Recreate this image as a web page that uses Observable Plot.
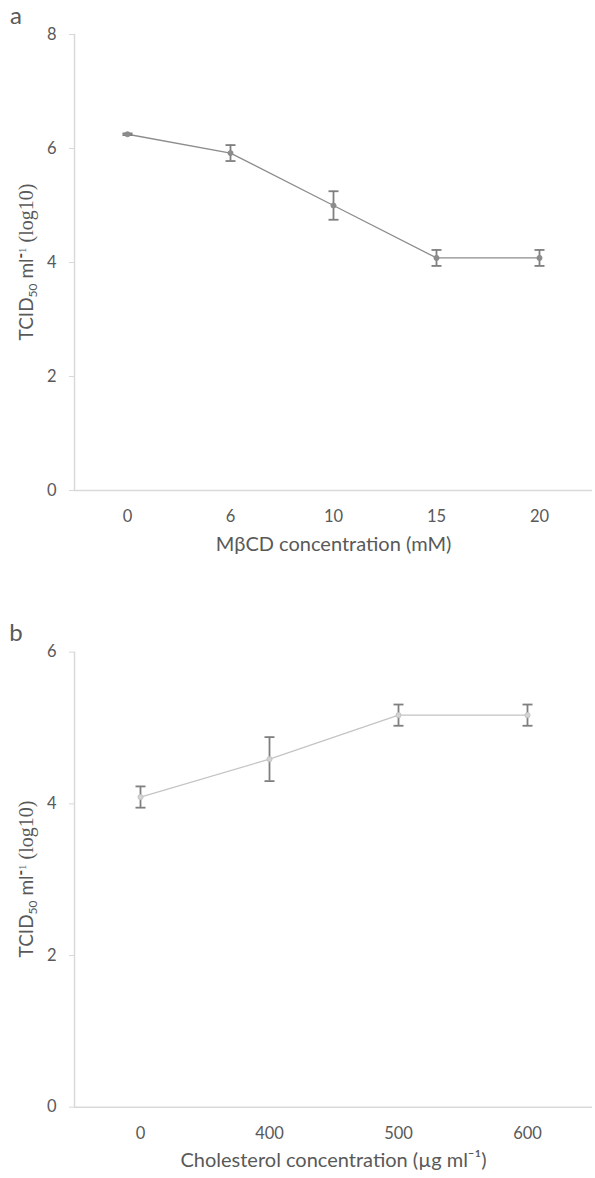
<!DOCTYPE html>
<html>
<head>
<meta charset="utf-8">
<script src="https://cdn.jsdelivr.net/npm/d3@7"></script>
<script src="https://cdn.jsdelivr.net/npm/@observablehq/plot@0.6"></script>
<style>
  body { margin: 0; background: #fff; }
  #wrap { position: relative; width: 595px; height: 1178px; background: #fff; font-family: Lato, "Open Sans", sans-serif; }
  .panel { position: absolute; left: 0; }
</style>
</head>
<body>
<div id="wrap">
  <div class="panel" id="pa" style="top:0px"></div>
  <div class="panel" id="pb" style="top:600px"></div>
</div>
<script>
// ---- data ----
const catsA = ["0", "6", "10", "15", "20"];
const meanA = [6.25, 5.92, 5.0, 4.08, 4.08];
const errA = [0.015, 0.14, 0.25, 0.14, 0.14];
const ticksA = [0, 2, 4, 6, 8];
const xTitleA = "MβCD concentration (mM)";

const catsB = ["0", "400", "500", "600"];
const meanB = [4.09, 4.59, 5.17, 5.17];
const errB = [0.14, 0.29, 0.14, 0.14];
const ticksB = [0, 2, 4, 6];
const xTitleB = "Cholesterol concentration (µg ml⁻¹)";

const TEXT = "#595959";
const AXIS = "#d9d9d9";
const ERR = "#7f7f7f";

const capSymbol = {
  draw(ctx) { ctx.moveTo(-5, 0); ctx.lineTo(5, 0); }
};

function makePanel({cats, means, errs, ticks, yMax, height, mt, mb, xTitle, lineColor, dotFill, dotStroke}) {
  const data = cats.map((c, i) => ({cat: c, mean: means[i], lo: means[i] - errs[i], hi: means[i] + errs[i]}));
  const marks = [
    Plot.ruleY([0], {stroke: AXIS, strokeWidth: 1.5}),
    Plot.frame({anchor: "left", stroke: AXIS, strokeWidth: 1.5}),
    Plot.axisY({ticks, tickFormat: d3.format("d"), tickSize: 5, tickPadding: 13, stroke: AXIS, fill: TEXT, fontSize: 16.5, label: null}),
    Plot.axisX({tickSize: 0, tickPadding: 20, fill: TEXT, fontSize: 16.5, label: null}),
    Plot.line(data, {x: "cat", y: "mean", stroke: lineColor, strokeWidth: 1.3}),
    Plot.ruleX(data, {x: "cat", y1: "lo", y2: "hi", stroke: ERR, strokeWidth: 1.8}),
    Plot.dot(data, {x: "cat", y: "lo", symbol: capSymbol, stroke: ERR, strokeWidth: 1.8, r: 3}),
    Plot.dot(data, {x: "cat", y: "hi", symbol: capSymbol, stroke: ERR, strokeWidth: 1.8, r: 3}),
    Plot.dot(data, {x: "cat", y: "mean", r: 2.6, fill: dotFill, stroke: dotStroke, strokeWidth: 0.8}),
    Plot.text([xTitle], {frameAnchor: "bottom", dy: 60, fill: TEXT, fontSize: 20, text: d => d})
  ];
  return Plot.plot({
    width: 595,
    height,
    marginLeft: 74,
    marginRight: 3,
    marginTop: mt,
    marginBottom: mb,
    style: {fontFamily: "Lato, 'Open Sans', sans-serif", background: "white", color: TEXT},
    x: {type: "point", domain: cats, padding: 0.5, axis: null},
    y: {domain: [0, yMax], axis: null},
    marks
  });
}

function addDecor(svg, letter, letterY, titleCx, titleCy) {
  const s = d3.select(svg);
  s.append("text")
    .attr("x", 16).attr("y", letterY)
    .attr("fill", TEXT)
    .style("font-family", "Lato, 'Open Sans', sans-serif")
    .style("font-size", "24px")
    .text(letter);
  const t = s.append("text")
    .attr("transform", `translate(${titleCx},${titleCy}) rotate(-90)`)
    .attr("text-anchor", "middle")
    .attr("fill", TEXT)
    .style("font-family", "Lato, 'Open Sans', sans-serif")
    .style("font-size", "19px");
  t.append("tspan").text("TCID");
  t.append("tspan").attr("dy", 4).style("font-size", "12px").text("50");
  t.append("tspan").attr("dy", -4).text(" ml");
  t.append("tspan").attr("dy", -7).style("font-size", "15px").style("font-weight", "900").attr("fill", "#404040").text("-");
  t.append("tspan").style("font-size", "11px").style("font-family", "'Liberation Serif', serif").text("1");
  t.append("tspan").attr("dy", 7).style("font-family", "'Liberation Serif', serif").style("font-size", "20px").text(" (log10)");
}

const svgA = makePanel({cats: catsA, means: meanA, errs: errA, ticks: ticksA, yMax: 8, height: 600, mt: 34, mb: 110,
  xTitle: xTitleA, lineColor: "#8c8c8c", dotFill: "#8c8c8c", dotStroke: "#8c8c8c"});
addDecor(svgA, "a", 24, 33, 262);
document.getElementById("pa").appendChild(svgA);

const svgB = makePanel({cats: catsB, means: meanB, errs: errB, ticks: ticksB, yMax: 6, height: 578, mt: 51.7, mb: 71.3,
  xTitle: xTitleB, lineColor: "#c4c4c4", dotFill: "#d4d4d4", dotStroke: "#bdbdbd"});
addDecor(svgB, "b", 41, 33, 279);
document.getElementById("pb").appendChild(svgB);
</script>
</body>
</html>
